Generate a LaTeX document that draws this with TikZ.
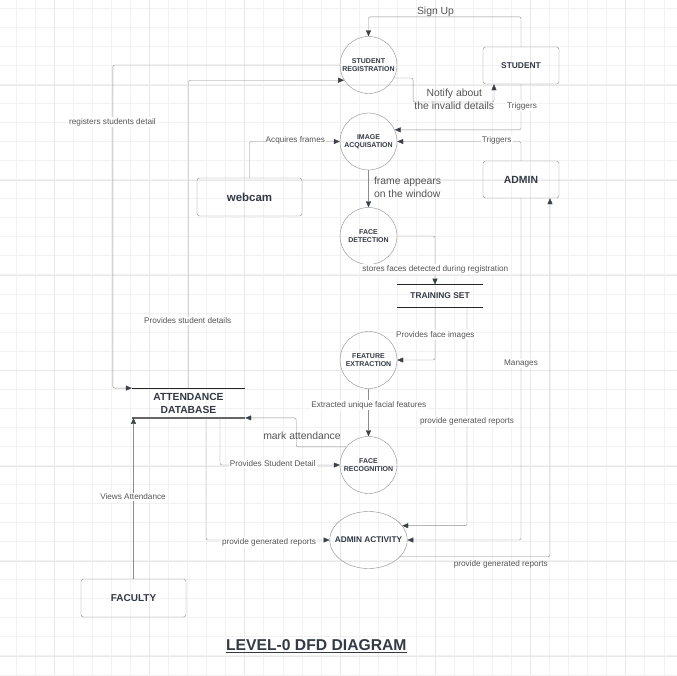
\documentclass[tikz,border=0pt]{standalone}
\usepackage{fontspec}
\setmainfont{Liberation Sans}
\usepackage{tikz}
\usetikzlibrary{shapes.geometric}
\usetikzlibrary{arrows.meta}
\usepackage{xcolor}
\definecolor{edgegray}{HTML}{8C8C8C}
\definecolor{arrowdark}{HTML}{3A414A}
\definecolor{nodetext}{HTML}{333A45}
\definecolor{labeltext}{HTML}{555555}
\definecolor{gridminor}{HTML}{F2F2F2}
\definecolor{gridmajor}{HTML}{E8E8E8}

\begin{document}
\begin{tikzpicture}[x=1pt,y=-1pt,
  proc/.style={circle,draw=edgegray,minimum size=57pt,inner sep=0pt,align=center,text=nodetext,font=\fontsize{7}{8.5}\selectfont\bfseries},
  ent/.style={draw=edgegray,rounded corners=2.5pt,minimum width=76pt,minimum height=37pt,text=nodetext},
  store/.style={minimum height=22.3pt,inner sep=0pt,align=center,text=nodetext},
  storeline/.style={draw=black!85,line width=0.9pt},
  flow/.style={draw=edgegray,rounded corners=2pt,-{Triangle[length=6pt,width=5pt,color=arrowdark]}},
  lbl/.style={fill=white,inner sep=1pt,text=labeltext,font=\fontsize{8.2}{9}\selectfont},
  biglbl/.style={text=labeltext,align=center,font=\fontsize{10.4}{13.3}\selectfont}]
\useasboundingbox (0,0) rectangle (677,675);
\fill[white] (0,0) rectangle (677,675);
% grid
\foreach \k in {0,...,35} \draw[gridminor] ({16+19.05*\k},0) -- ({16+19.05*\k},675);
\foreach \k in {-1,...,34} \draw[gridminor] (0,{27+19.05*\k}) -- (677,{27+19.05*\k});
\foreach \k in {0,...,6} \draw[gridmajor] ({54+95.25*\k},0) -- ({54+95.25*\k},675);
\foreach \k in {0,...,6} \draw[gridmajor] (0,{84.7+95.25*\k}) -- (677,{84.7+95.25*\k});

% processes
\node[proc] (reg) at (368.5,65) {STUDENT\\REGISTRATION};
\node[proc] (img) at (368.5,141.5) {IMAGE\\ACQUISATION};
\node[proc] (fd) at (368.5,236) {FACE\\DETECTION};
\node[proc] (fe) at (368.5,360) {FEATURE\\EXTRACTION};
\node[proc] (fr) at (368.5,465) {FACE\\RECOGNITION};
\node[ellipse,draw=edgegray,minimum height=57pt,inner xsep=-6.3pt,inner ysep=0pt,text=nodetext,font=\fontsize{8.3}{9}\selectfont\bfseries] (aa) at (368.5,540) {ADMIN ACTIVITY};

% entities
\node[ent,font=\fontsize{8.4}{9}\selectfont\bfseries] (stud) at (521,65.5) {STUDENT};
\node[ent,font=\fontsize{10.4}{11}\selectfont\bfseries] (adm) at (521,179.5) {ADMIN};
\node[ent,minimum width=105pt,minimum height=38pt,font=\fontsize{11.5}{12}\selectfont\bfseries] (cam) at (249.5,197) {webcam};
\node[ent,minimum width=105pt,minimum height=38pt,font=\fontsize{10}{11}\selectfont\bfseries] (fac) at (133.5,598) {FACULTY};

% data stores
\node[store,minimum width=86pt,font=\fontsize{8.4}{9}\selectfont\bfseries] (ts) at (440,296) {TRAINING SET};
\draw[storeline] (ts.north west) -- (ts.north east) (ts.south west) -- (ts.south east);
\node[store,minimum width=113pt,minimum height=29.4pt,font=\fontsize{10.3}{13}\selectfont\bfseries] (db) at (188.5,403) {ATTENDANCE\\DATABASE};
\draw[storeline] (db.north west) -- (db.north east);
\draw[draw=black!60,line width=1.3pt] (db.south west) -- (db.south east);

% flows
\draw[flow] (stud.north) -- ++(0,-30) -| (reg.north);
\draw[flow] (reg.-27) -| ++(19,24) -| ([xshift=-27pt]stud.south);
\draw[flow] (stud.south) |- (img.24);
\draw[flow] (adm.north) |- (img.east);
\draw[flow] (cam.north) |- (img.west);
\draw[flow] (img.south) -- (fd.north);
\draw[flow] (fd.east) -| ([xshift=-5pt]ts.north);
\draw[flow] ([xshift=-5pt]ts.south) |- (fe.east);
\draw[flow] ([xshift=27pt]ts.south) |- (aa.23);
\draw[flow] (adm.south) |- (aa.east);
\draw[flow] (aa.-28) -| ([xshift=29pt]adm.south);
\draw[flow] (reg.west) -- ++(-227,0) |- (db.north west);
\draw[flow] (db.north) |- (reg.212);
\draw[flow] (fe.south) -- (fr.north);
\draw[flow] (fr.141) -| ([xshift=51pt]db.south east) -- (db.south east);
\draw[flow] ([xshift=31.5pt]db.south) |- (fr.west);
\draw[flow] ([xshift=17.5pt]db.south) |- (aa.west);
\draw[flow] (fac.north) -- (fac.north |- db.south);

% flow labels
\node[biglbl] (lsign) at (435.5,12) {Sign Up};
\node[biglbl] (lnotify) at (454.3,99.5) {Notify about\\the invalid details};
\node[lbl] (ltrig1) at (522,106) {Triggers};
\node[lbl] (ltrig2) at (496.7,140) {Triggers};
\node[lbl] (lacq) at (295.3,140) {Acquires frames};
\node[lbl] (lreg) at (112.5,122) {registers students detail};
\node[biglbl,anchor=west,align=left] (lframe) at (370.5,187.5) {frame appears\\on the window};
\node[lbl] (lstore) at (435.3,269) {stores faces detected during registration};
\node[lbl] (lprov) at (187.7,321) {Provides student details};
\node[lbl] (lface) at (435.3,335) {Provides face images};
\node[lbl] (lman) at (521,363.7) {Manages};
\node[lbl] (lext) at (368.8,405) {Extracted unique facial features};
\node[lbl] (lrep1) at (467,421) {provide generated reports};
\node[biglbl] (lmark) at (302,436) {mark attendance};
\node[lbl] (lpsd) at (272.7,464) {Provides Student Detail};
\node[lbl] (lview) at (133,496.7) {Views Attendance};
\node[lbl] (lrep2) at (269,542.3) {provide generated reports};
\node[lbl,fill=none] (lrep3) at (500.8,564) {provide generated reports};

% title
\node[text=nodetext,font=\fontsize{15.7}{17}\selectfont\bfseries] (title) at (316.3,646) {\underline{LEVEL-0 DFD DIAGRAM}};
\end{tikzpicture}
\end{document}
